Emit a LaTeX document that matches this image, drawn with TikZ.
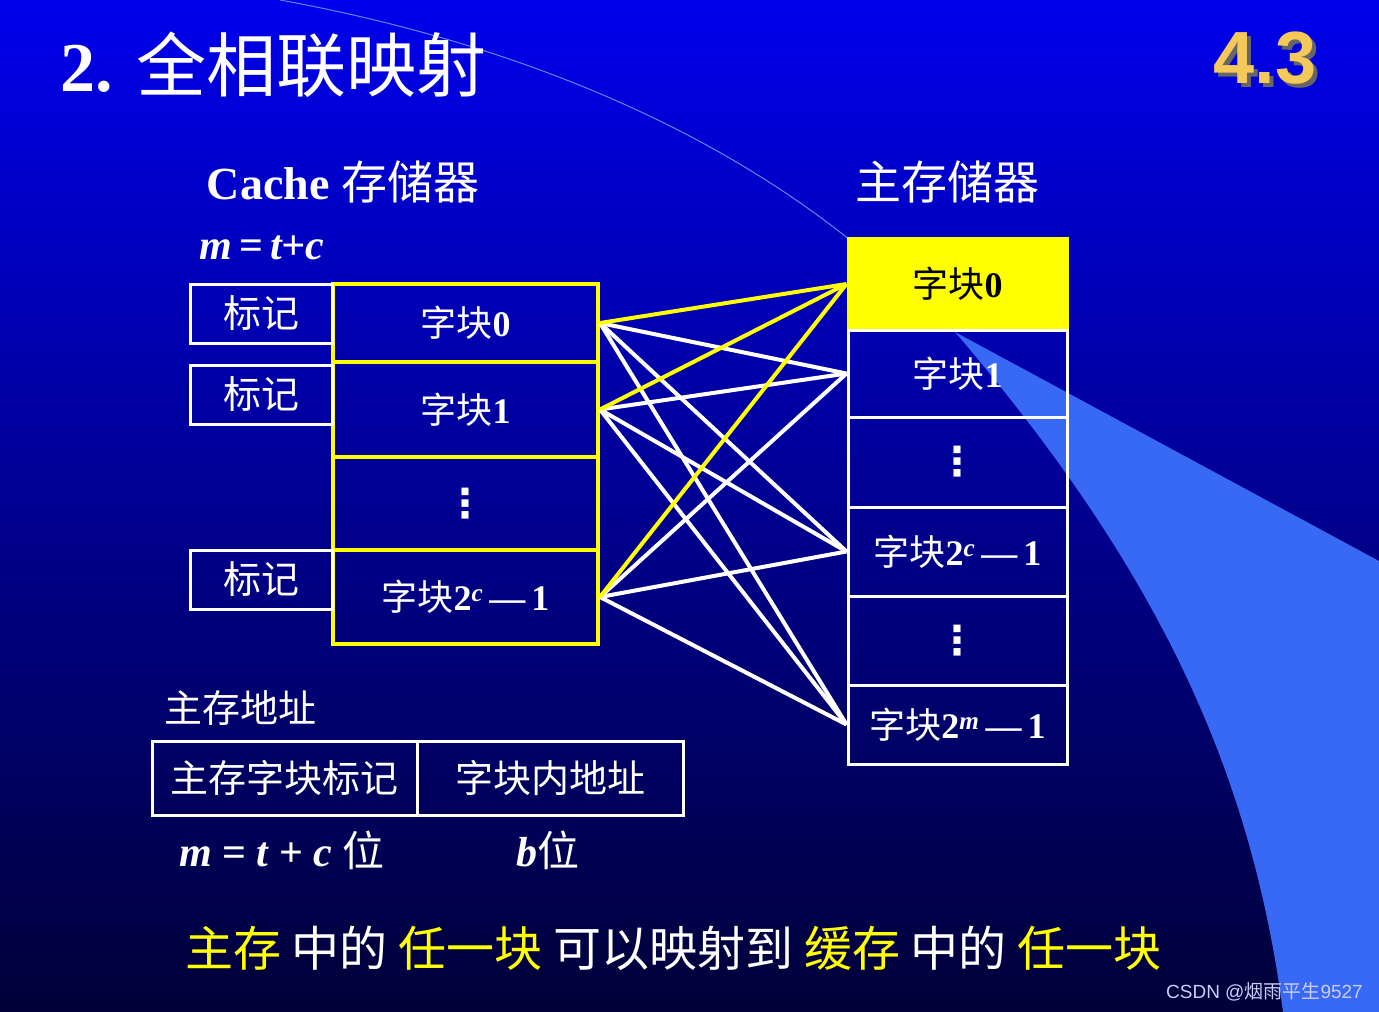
\documentclass[tikz,border=0pt]{standalone}
\usepackage{fontspec}
\setmainfont{Liberation Serif}
\newfontfamily\cjk{Noto Sans CJK SC}
\newfontfamily\hv{Liberation Sans}
\newfontfamily\dv{DejaVu Sans}
\usetikzlibrary{positioning}
\definecolor{bgtop}{RGB}{0,0,235}
\definecolor{bgbot}{RGB}{0,0,55}
\definecolor{wedge}{RGB}{55,105,245}
\definecolor{gold}{RGB}{245,200,90}
\definecolor{hiyel}{RGB}{255,255,0}
\tikzset{
  tagbox/.style={draw=white,line width=3pt,minimum width=142pt,minimum height=59pt,text=white,font=\fontsize{38}{40}\selectfont\cjk},
  cblk/.style={draw=hiyel,line width=4pt,minimum width=265pt,text=white,font=\fontsize{36}{40}\selectfont\bfseries},
  mblk/.style={draw=white,line width=3pt,minimum width=219pt,text=white,font=\fontsize{36}{40}\selectfont\bfseries},
  ylink/.style={hiyel,line width=4pt},
  wlink/.style={white,line width=4pt},
  lbl/.style={text=white,inner sep=0pt}
}
\newcommand{\zk}{{\cjk\mdseries 字块}}
\newcommand{\vd}{{\dv\bfseries\fontsize{40}{40}\selectfont ⋮}}
\begin{document}
\begin{tikzpicture}[x=1pt,y=-1pt]
  \shade[top color=bgtop,bottom color=bgbot] (0,0) rectangle (1379,1012);
  \useasboundingbox (0,0) rectangle (1379,1012);
  % blue wedge and arc
  \fill[wedge] (955,332) -- (1379,561) -- (1379,1012) -- (1283,1012)
    .. controls (1250,760) and (1150,560) .. (955,332);
  \draw[wedge!80!white,line width=1pt] (280,0) .. controls (500,40) and (700,120) .. (850,240);
  % titles
  \node[lbl,anchor=west,font=\fontsize{70}{72}\selectfont\bfseries] (title) at (60,65) {2. {\cjk\mdseries 全相联映射}};
  \node[inner sep=0pt,text=black!60,font=\fontsize{74}{76}\selectfont\hv\bfseries] at (1269,62) {4.3};
  \node[inner sep=0pt,text=gold,font=\fontsize{74}{76}\selectfont\hv\bfseries] (num) at (1265,58) {4.3};
  \node[lbl,font=\fontsize{46}{48}\selectfont\bfseries] (ctitle) at (343,182) {Cache {\cjk\mdseries 存储器}};
  \node[lbl,font=\fontsize{46}{48}\selectfont\cjk] (mtitle) at (947,182) {主存储器};
  \node[lbl,font=\fontsize{42}{44}\selectfont\bfseries\itshape] (mtc) at (262,248) {m{\upshape\,=\,}t+c};
  % cache blocks
  \node[cblk,minimum height=78pt] (c0) at (465.5,323) {\zk 0};
  \node[cblk,minimum height=95pt] (c1) at (465.5,409.5) {\zk 1};
  \node[cblk,minimum height=93pt] (c2) at (465.5,503.5) {\vd};
  \node[cblk,minimum height=94pt] (c3) at (465.5,597) {\zk 2\textsuperscript{\itshape c}\,—\,1};
  % tags
  \node[tagbox] (t0) at (261,313.5) {标记};
  \node[tagbox] (t1) at (261,394.5) {标记};
  \node[tagbox] (t3) at (261,579.5) {标记};
  % main memory blocks
  \node[mblk,fill=hiyel,draw=hiyel,text=black,minimum height=92pt] (m0) at (957.5,284) {\zk 0};
  \node[mblk,minimum height=87pt] (m1) at (957.5,373.5) {\zk 1};
  \node[mblk,minimum height=90pt] (m2) at (957.5,462) {\vd};
  \node[mblk,minimum height=89pt] (m3) at (957.5,551.5) {\zk 2\textsuperscript{\itshape c}\,—\,1};
  \node[mblk,minimum height=89pt] (m4) at (957.5,640.5) {\vd};
  \node[mblk,minimum height=79pt] (m5) at (957.5,724.5) {\zk 2\textsuperscript{\itshape m}\,—\,1};
  % links
  \foreach \c in {c0,c1,c3}{
    \foreach \m in {m1,m3,m5}{
      \draw[wlink] (\c.east) -- (\m.west);
    }
    \draw[ylink] (\c.east) -- (m0.west);
  }
  % address
  \node[lbl,font=\fontsize{38}{40}\selectfont\cjk] (alabel) at (240,708) {主存地址};
  \node[draw=white,line width=3pt,minimum width=265pt,minimum height=74pt,text=white,font=\fontsize{38}{40}\selectfont\cjk] (atag) at (284.5,778) {主存字块标记};
  \node[draw=white,line width=3pt,minimum width=266pt,minimum height=74pt,text=white,font=\fontsize{38}{40}\selectfont\cjk] (aoff) at (550,778) {字块内地址};
  \node[lbl,font=\fontsize{42}{44}\selectfont\bfseries\itshape] (abits) at (282,850) {m {\upshape =} t {\upshape +} c {\cjk\mdseries\upshape 位}};
  \node[lbl,font=\fontsize{42}{44}\selectfont\bfseries\itshape] (bbits) at (548,850) {b{\cjk\mdseries\upshape 位}};
  % bottom line
  \node[inner sep=0pt,font=\fontsize{48}{50}\selectfont\cjk,anchor=west] (note) at (185,948)
    {\textcolor{hiyel}{主存} \textcolor{white}{中的} \textcolor{hiyel}{任一块} \textcolor{white}{可以映射到} \textcolor{hiyel}{缓存} \textcolor{white}{中的} \textcolor{hiyel}{任一块}};
  \node[inner sep=0pt,text=white!80!blue,font=\fontsize{19}{20}\selectfont\hv,anchor=east] (mark) at (1363,992) {CSDN @{\cjk 烟雨平生}9527};
\end{tikzpicture}
\end{document}
